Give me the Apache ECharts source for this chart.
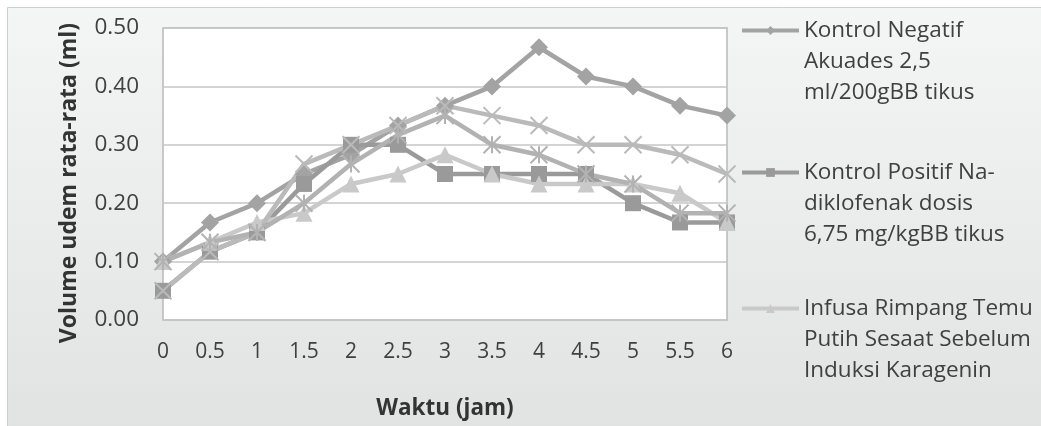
<!DOCTYPE html>
<html>
<head>
<meta charset="utf-8">
<script src="https://cdn.jsdelivr.net/npm/echarts@6/dist/echarts.min.js"></script>
<style>
  html, body { margin: 0; padding: 0; background: #ffffff; }
  #chart { width: 1041px; height: 426px; }
</style>
</head>
<body>
<div id="chart"></div>
<script>
// Time points (hours after carrageenan induction)
const waktu = ['0', '0.5', '1', '1.5', '2', '2.5', '3', '3.5', '4', '4.5', '5', '5.5', '6'];

// Mean paw oedema volume (ml) per group
const kontrolNegatif = [0.100, 0.167, 0.200, 0.250, 0.283, 0.333, 0.367, 0.400, 0.467, 0.417, 0.400, 0.367, 0.350];
const kontrolPositif = [0.050, 0.117, 0.150, 0.233, 0.300, 0.300, 0.250, 0.250, 0.250, 0.250, 0.200, 0.167, 0.167];
const infusaSesaat   = [0.100, 0.133, 0.167, 0.183, 0.233, 0.250, 0.283, 0.250, 0.233, 0.233, 0.233, 0.217, 0.167];
const infusa1Jam     = [0.050, 0.117, 0.150, 0.267, 0.300, 0.333, 0.367, 0.350, 0.333, 0.300, 0.300, 0.283, 0.250];
const infusa2Jam     = [0.100, 0.133, 0.150, 0.200, 0.267, 0.317, 0.350, 0.300, 0.283, 0.250, 0.233, 0.183, 0.183];

// Y axis ticks
const yTicks = [0, 0.1, 0.2, 0.3, 0.4, 0.5];

const namaNegatif = 'Kontrol Negatif\nAkuades 2,5\nml/200gBB tikus';
const namaPositif = 'Kontrol Positif Na-\ndiklofenak dosis\n6,75 mg/kgBB tikus';
const namaSesaat  = 'Infusa Rimpang Temu\nPutih Sesaat Sebelum\nInduksi Karagenin';
const nama1Jam    = 'Infusa Rimpang Temu\nPutih 1 Jam Sebelum\nInduksi Karagenin';
const nama2Jam    = 'Infusa Rimpang Temu\nPutih 2 Jam Sebelum\nInduksi Karagenin';

const FONT = '"Open Sans", "Noto Sans", sans-serif';
const TXT = '#404040';

const chart = echarts.init(document.getElementById('chart'), null, { renderer: 'canvas' });

function lineSeries(name, data, color, symbol, size, strokeOnly) {
  return {
    name: name,
    type: 'line',
    data: data,
    symbol: symbol,
    symbolSize: size,
    showAllSymbol: true,
    lineStyle: { color: color, width: 4.5 },
    itemStyle: strokeOnly
      ? { color: 'rgba(0,0,0,0)', borderColor: color, borderWidth: 2 }
      : { color: color, borderWidth: 0 },
    emphasis: { disabled: true },
    animation: false
  };
}

// one legend block per visible group; two empty leading lines keep the
// icon level with the first line of the three-line label
function legendBlock(name, top) {
  return {
    data: [name],
    left: 740,
    top: top,
    orient: 'vertical',
    padding: 0,
    itemWidth: 57,
    itemHeight: 11,
    selectedMode: false,
    lineStyle: { width: 4 },
    formatter: n => '\n\n' + n,
    textStyle: {
      fontFamily: FONT,
      fontSize: 22.5,
      color: TXT,
      lineHeight: 31
    }
  };
}

const X_PATH = 'path://M0,0L10,10M10,0L0,10';
const STAR_PATH = 'path://M0,0L10,10M10,0L0,10M5,0L5,10';

chart.setOption({
  backgroundColor: '#ffffff',
  graphic: [{
    type: 'rect',
    z: -10,
    shape: { x: 7.5, y: 7.5, width: 1040, height: 425 },
    style: {
      fill: new echarts.graphic.LinearGradient(0, 0, 0, 1, [
        { offset: 0, color: '#f4f5f5' },
        { offset: 1, color: '#e1e2e2' }
      ]),
      stroke: '#cfcfcf',
      lineWidth: 1
    }
  }],
  grid: {
    left: 163,
    top: 28,
    right: 314,
    bottom: 106,
    show: true,
    backgroundColor: '#ffffff',
    borderColor: '#b9b9b9',
    borderWidth: 1.5
  },
  legend: [
    legendBlock(namaNegatif, -47),
    legendBlock(namaPositif, 95),
    legendBlock(namaSesaat, 231)
  ],
  xAxis: {
    type: 'category',
    data: waktu,
    boundaryGap: false,
    name: 'Waktu (jam)',
    nameLocation: 'middle',
    nameGap: 77,
    nameTextStyle: { fontFamily: FONT, fontSize: 22.5, fontWeight: 'bold', color: '#333333', verticalAlign: 'top' },
    axisLine: { show: false },
    axisTick: { show: false },
    axisLabel: { fontFamily: FONT, fontSize: 21, color: TXT, margin: 22, interval: 0 },
    splitLine: { show: false }
  },
  yAxis: {
    type: 'value',
    min: yTicks[0],
    max: yTicks[yTicks.length - 1],
    interval: 0.1,
    name: 'Volume udem rata-rata (ml)',
    nameLocation: 'middle',
    nameGap: 82,
    nameTextStyle: { fontFamily: FONT, fontSize: 23, fontWeight: 'bold', color: '#333333', padding: [0, 18, 0, 0] },
    axisLine: { show: false },
    axisTick: { show: false },
    axisLabel: {
      fontFamily: FONT, fontSize: 22.5, color: TXT, margin: 24,
      formatter: v => v.toFixed(2)
    },
    splitLine: { lineStyle: { color: '#c6c6c6', width: 1.5 } }
  },
  series: [
    lineSeries(namaNegatif, kontrolNegatif, '#a3a3a3', 'diamond', 18, false),
    lineSeries(namaPositif, kontrolPositif, '#9a9a9a', 'rect', 16, false),
    lineSeries(namaSesaat, infusaSesaat, '#c9c9c9', 'triangle', 17, false),
    lineSeries(nama1Jam, infusa1Jam, '#bababa', X_PATH, 17, true),
    lineSeries(nama2Jam, infusa2Jam, '#b2b2b2', STAR_PATH, 17, true)
  ]
});
</script>
</body>
</html>
